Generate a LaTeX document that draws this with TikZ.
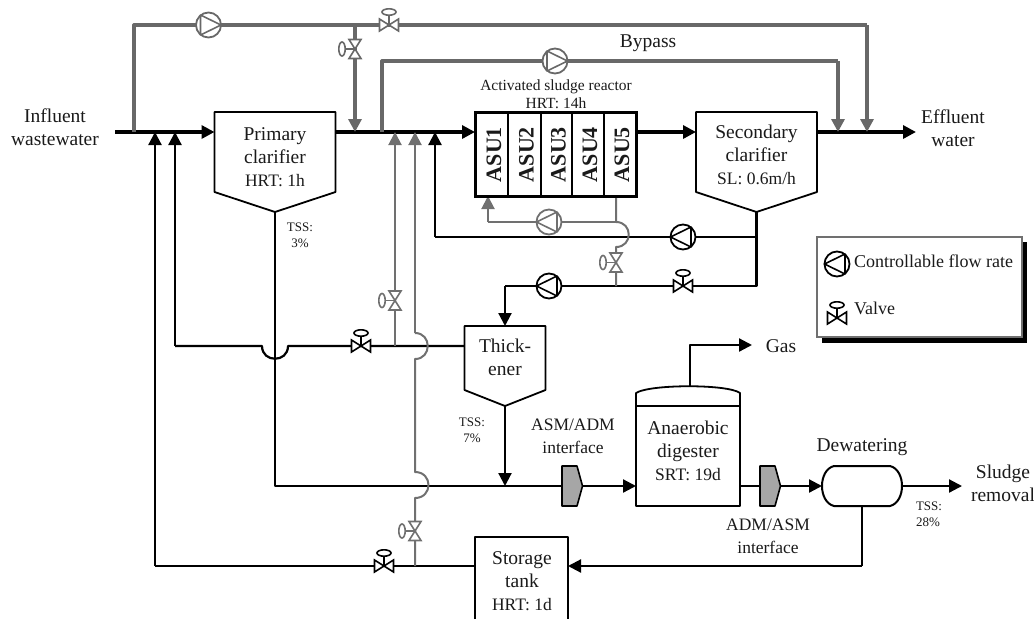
\documentclass[tikz,border=0pt]{standalone}
\usepackage{fontspec}
\setmainfont{Liberation Serif}
\usetikzlibrary{arrows.meta,calc}
\definecolor{inkc}{HTML}{1A1A1A}
\definecolor{byp}{HTML}{686868}
\definecolor{rec}{HTML}{707070}
\newcommand{\ft}{\fontsize{19.5}{23}\selectfont}
\newcommand{\fp}{\fontsize{17.5}{23}\selectfont}
\newcommand{\fr}{\fontsize{15.5}{17.5}\selectfont}
\newcommand{\fs}{\fontsize{13}{16}\selectfont}
\tikzset{
  x=1pt,y=-1pt,
  txt/.style={text=inkc,align=center,inner sep=0pt},
  ttxt/.style={txt,font=\ft},
  ptxt/.style={txt,font=\fp},
  stxt/.style={txt,font=\fs},
  asutxt/.style={txt,font=\fontsize{22}{22}\selectfont\bfseries,rotate=90},
  vessel/.style={draw=black,line width=1.8pt,fill=white,line join=round},
  hidden/.style={inner sep=0pt,outer sep=0pt},
  tipbig/.style={-{Triangle[length=13pt,width=13pt]}},
  main/.style={draw=black,line width=3.6pt,line join=round},
  blk/.style={draw=black,line width=2.2pt,line join=round},
  byline/.style={draw=byp,line width=3.2pt,line join=round},
  recline/.style={draw=rec,line width=2pt,line join=round},
  pumpc/.style={circle,draw=#1,fill=white,line width=1.8pt,minimum size=25pt,inner sep=0pt,outer sep=0pt},
  vbody/.style={draw=#1,fill=white,line width=1.6pt,line join=miter},
}
\newcommand{\pumpR}[3]{%
  \node[pumpc=#3] (#1) at (#2) {};
  \draw[draw=#3,line width=1.6pt,line join=round] ($(#1)+(-8,-10)$) -- ($(#1)+(12.5,0)$) -- ($(#1)+(-8,10)$) -- cycle;}
\newcommand{\pumpL}[3]{%
  \node[pumpc=#3] (#1) at (#2) {};
  \draw[draw=#3,line width=1.6pt,line join=round] ($(#1)+(8,-10)$) -- ($(#1)+(-12.5,0)$) -- ($(#1)+(8,10)$) -- cycle;}
\newcommand{\valveH}[3]{%
  \node[hidden,minimum width=19pt,minimum height=12pt] (#1) at (#2) {};
  \draw[vbody=#3] ($(#1)+(-9.5,-6)$) -- ($(#1)+(9.5,6)$) -- ($(#1)+(9.5,-6)$) -- ($(#1)+(-9.5,6)$) -- cycle;
  \draw[draw=#3,line width=1.6pt] (#1.center) -- ($(#1)+(0,-9)$);
  \draw[draw=#3,fill=white,line width=1.6pt] ($(#1)+(0,-13)$) ellipse [x radius=7,y radius=3.2];}
\newcommand{\valveV}[3]{%
  \node[hidden,minimum width=12pt,minimum height=19pt] (#1) at (#2) {};
  \draw[vbody=#3] ($(#1)+(-6,-9.5)$) -- ($(#1)+(6,-9.5)$) -- ($(#1)+(-6,9.5)$) -- ($(#1)+(6,9.5)$) -- cycle;
  \draw[draw=#3,line width=1.6pt] (#1.center) -- ($(#1)+(-9,0)$);
  \draw[draw=#3,fill=white,line width=1.6pt] ($(#1)+(-13,0)$) ellipse [x radius=3.2,y radius=7];}
\begin{document}
\begin{tikzpicture}
\useasboundingbox (0,0) rectangle (1034,619);
\coordinate (inl) at (115,132);
\coordinate (j134) at (134,132);
\coordinate (j155) at (155,132);
\coordinate (j175) at (175,132);
\coordinate (j355) at (355,132);
\coordinate (j382) at (382,132);
\coordinate (j395) at (395,132);
\coordinate (j415) at (415,132);
\coordinate (j435) at (435,132);
\coordinate (j838) at (838,132);
\coordinate (j867) at (867,132);
\coordinate (eff) at (916,132);
\coordinate (t134) at (134,25);
\coordinate (t355) at (355,25);
\coordinate (t867) at (867,25);
\coordinate (t382) at (382,61);
\coordinate (t838) at (838,61);
\coordinate (b155) at (155,566);
\coordinate (b175) at (175,346);
\coordinate (a1) at (262,346);
\coordinate (a2) at (288,346);
\coordinate (g395) at (395,346);
\coordinate (g415a) at (415,333);
\coordinate (g415b) at (415,359);
\coordinate (g415c) at (415,472);
\coordinate (g415d) at (415,498);
\coordinate (g415e) at (415,566);
\coordinate (b275) at (275,486);
\coordinate (b505) at (505,486);
\coordinate (l435) at (435,237);
\coordinate (r756a) at (756.5,237);
\coordinate (r756b) at (756.5,286);
\coordinate (g616a) at (616,196);
\coordinate (g616b) at (616,222);
\coordinate (g616c) at (616,247);
\coordinate (g616d) at (616,286);
\coordinate (g488a) at (488,222);
\coordinate (g488b) at (488,196);
\coordinate (t505) at (505,286);
\coordinate (gas1) at (690,345);
\coordinate (gas2) at (752,345);
\coordinate (sl) at (962,486);
\coordinate (dwb) at (862,506);
\coordinate (dwc) at (862,566);
\node[hidden,minimum width=121pt,minimum height=80pt] (pc) at (275,152) {};
\node[hidden,minimum width=121pt,minimum height=80pt] (sc) at (756.5,152) {};
\node[hidden,minimum width=161pt,minimum height=84pt] (asu) at (555.5,154) {};
\node[hidden,minimum width=81pt,minimum height=64pt] (th) at (505,358) {};
\node[hidden,minimum width=104pt,minimum height=100pt] (ad) at (688,456) {};
\node[hidden,minimum width=93pt,minimum height=82pt] (st) at (521.5,578) {};
\coordinate (pcb) at (275,212);
\coordinate (scb) at (756.5,212);
\coordinate (thb) at (505,406);
\coordinate (adt) at (690,386);
% pipes
\draw[main,tipbig] (inl) -- (pc.west |- inl);
\draw[main,tipbig] (j435) -- (asu.west |- inl);
\draw[main,tipbig] (asu.east |- inl) -- (sc.west |- inl);
\draw[main,tipbig] (sc.east |- inl) -- (eff);
\draw[main] (pc.east |- inl) -- (j435);
\draw[blk,tipbig] (b155) -- (j155);
\draw[blk,tipbig] (b175) -- (j175);
\draw[blk] (st.west |- b155) -- (b155);
\draw[blk] (b175) -- (a1) .. controls +(0,17) and +(0,17) .. (a2) -- (th.west |- a2);
\draw[blk] (pcb) -- (b275) -- (b505);
\draw[blk,tipbig] (l435) -- (j435);
\draw[blk] (l435) -- (r756a);
\draw[blk] (scb) -- (r756b) -- (t505);
\draw[blk,tipbig] (t505) -- (th.north);
\draw[blk,tipbig] (thb) -- (b505);
\draw[blk,tipbig] (b505) -- (ad.west |- b505);
\draw[blk,tipbig] (ad.east |- b505) -- (822,486) coordinate (dwl);
\draw[blk,tipbig] (902,486) coordinate (dwr) -- (sl);
\draw[blk] (dwb) -- (dwc);
\draw[blk,tipbig] (dwc) -- (st.east |- dwc);
\draw[blk,tipbig] (adt) -- (gas1) -- (gas2);
\draw[byline] (j134) -- (t134) -- (t867);
\draw[byline,tipbig] (t867) -- (j867);
\draw[byline,tipbig] (t355) -- (j355);
\draw[byline] (j382) -- (t382) -- (t838);
\draw[byline,tipbig] (t838) -- (j838);
\draw[recline,tipbig] (g395) -- (j395);
\draw[recline,tipbig] (g415a) -- (j415);
\draw[recline] (g415a) .. controls +(17,0) and +(17,0) .. (g415b) -- (g415c)
   .. controls +(18,0) and +(18,0) .. (g415d) -- (g415e);
\draw[recline] (g616d) -- (g616c) .. controls +(17,0) and +(17,0) .. (g616b) -- (g616a);
\draw[recline] (g616b) -- (g488a);
\draw[recline,tipbig] (g488a) -- (g488b);
% vessels
\draw[vessel] (pc.north west) -- (pc.north east) -- (pc.south east) -- (pcb) -- (pc.south west) -- cycle;
\draw[vessel] (sc.north west) -- (sc.north east) -- (sc.south east) -- (scb) -- (sc.south west) -- cycle;
\draw[vessel] (th.north west) -- (th.north east) -- (th.south east) -- (thb) -- (th.south west) -- cycle;
\draw[draw=black,line width=3pt,fill=white] (asu.north west) rectangle (asu.south east);
\foreach \xx in {508,540.5,572,604} \draw[black,line width=2pt] (\xx,112) -- (\xx,196);
\draw[vessel] (ad.south west) -- (636,393) .. controls (650,384) and (728,384) .. (740,393) -- (ad.south east) -- cycle;
\draw[black,line width=1.8pt] (636,406) -- (740,406);
\draw[vessel] (st.south west) -- (st.north west) -- (st.north east) -- (st.south east);
\draw[vessel,line width=2pt] (834,466) -- (890,466) .. controls (906,470) and (906,502) .. (890,506) -- (834,506) .. controls (818,502) and (818,470) .. (834,466) -- cycle;
\draw[draw=black,fill=black!35,line width=1.6pt,line join=round] (562,466) -- (577,466) -- (582.5,486) -- (577,506) -- (562,506) -- cycle;
\draw[draw=black,fill=black!35,line width=1.6pt,line join=round] (760,466) -- (775,466) -- (780.5,486) -- (775,506) -- (760,506) -- cycle;
% pumps, valves
\pumpR{p1}{208.5,25}{byp}
\pumpR{p2}{555,61}{byp}
\pumpL{p3}{549,222}{rec}
\pumpL{p4}{683,237}{black}
\pumpL{p5}{549,286}{black}
\valveH{v1}{389,25}{byp}
\valveV{v2}{355,49}{byp}
\valveV{v3}{395,300.5}{rec}
\valveV{v4}{616,262.5}{rec}
\valveV{v5}{415,531}{rec}
\valveH{v6}{361,346}{black}
\valveH{v7}{683,286}{black}
\valveH{v8}{384,566}{black}
% labels
\node[ttxt] (tinf) at (55,127) {Influent\\wastewater};
\node[ttxt] (teff) at (953,128) {Effluent\\water};
\node[ttxt] (tbyp) at (648,43) {Bypass};
\node[txt,font=\fr] (tasr) at (556,94) {Activated sludge reactor\\HRT: 14h};
\node[ttxt] (tpc) at (275,157) {Primary\\clarifier\\\fp HRT: 1h};
\node[ttxt] (tsc) at (756.5,155) {Secondary\\clarifier\\\fp SL: 0.6m/h};
\node[asutxt] (u1) at (494,154.5) {ASU1};
\node[asutxt] (u2) at (526.5,154.5) {ASU2};
\node[asutxt] (u3) at (558.5,154.5) {ASU3};
\node[asutxt] (u4) at (590,154.5) {ASU4};
\node[asutxt] (u5) at (622,154.5) {ASU5};
\node[ttxt] (tth) at (505,357) {Thick-\\ener};
\node[ttxt] (tad) at (688,451) {Anaerobic\\digester\\\fp SRT: 19d};
\node[ttxt] (tst) at (522,581) {Storage\\tank\\\fp HRT: 1d};
\node[ttxt] (tdw) at (862,447) {Dewatering};
\node[ttxt] (tgas) at (781,346) {Gas};
\node[ttxt] (tsl) at (1003,483) {Sludge\\removal};
\node[ptxt] (tia) at (573,436) {ASM/ADM\\interface};
\node[ptxt] (tib) at (768,536) {ADM/ASM\\interface};
\node[stxt] (tss1) at (300,235) {TSS:\\3\%};
\node[stxt] (tss2) at (472,430) {TSS:\\7\%};
\node[stxt,align=left] (tss3) at (929,514) {TSS:\\28\%};
% legend
\fill[black] (822,242) rectangle (1027,343);
\node[draw=rec,fill=white,line width=1.4pt,minimum width=205pt,minimum height=100pt,inner sep=0pt,outer sep=0pt] (leg) at (919.5,287) {};
\pumpL{lp}{837,264}{black}
\valveH{lv}{837,318}{black}
\node[txt,font=\fontsize{18}{20}\selectfont,anchor=west] (tlp) at (854,261) {Controllable flow rate};
\node[txt,font=\fontsize{18}{20}\selectfont,anchor=west] (tlv) at (854,308) {Valve};
\end{tikzpicture}
\end{document}
